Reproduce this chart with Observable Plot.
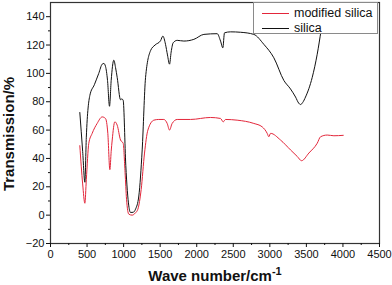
<!DOCTYPE html>
<html><head><meta charset="utf-8">
<script src="https://cdn.jsdelivr.net/npm/d3@7"></script>
<script src="https://cdn.jsdelivr.net/npm/@observablehq/plot@0.6"></script>
<style>
body{margin:0;background:#fff;}
#wrap{position:relative;width:392px;height:285px;font-family:"Liberation Sans",Arial,sans-serif;}
#legend{position:absolute;left:253px;top:2px;width:125px;height:32px;background:#fff;border:1px solid #8a8a8a;box-sizing:border-box;font-size:12.5px;color:#111;}
.row{position:absolute;left:8px;height:14px;display:flex;align-items:center;}
.row span.l{display:inline-block;width:27px;height:0;border-top:1px solid;margin-right:5px;}
</style></head>
<body><div id="wrap"></div>
<script>
const silicaX = [401,440,470,490,538,600,660,707,730,752,780,807,830,866,890,912,958,975,994,1030,1071,1094,1130,1163,1208,1254,1300,1368,1430,1505,1537,1573,1600,1628,1650,1678,1733,1824,1961,2098,2280,2326,2357,2380,2462,2600,2781,2918,3055,3192,3283,3352,3395,3420,3450,3488,3580,3648,3700];
const silicaY = [72.4,45,23.2,55,84.4,92,100,106.5,107,105,95,76.8,95,109.3,104,97.2,81.4,82,81,35,6.5,1.9,2,4.2,13.5,46,97,116,120,123,126.3,120.5,113,106.5,115,121.6,123.3,122.8,124,127.5,128,122.8,118,128.6,129.3,129,127.5,120.5,111,95,89,83.3,79,78,79.5,83.3,97.2,113.5,130];
const modX = [401,440,470,490,524,570,638,707,752,784,812,830,844,880,912,958,994,1020,1040,1071,1117,1160,1195,1240,1286,1332,1414,1480,1550,1596,1628,1664,1733,1915,2189,2326,2362,2394,2553,2781,2895,2964,2986,3010,3146,3283,3375,3434,3534,3648,3694,3785,3876,4004];
const modY = [49,22,8.4,25,50.7,57.7,64.7,69.3,68.2,57.7,32.1,45,53,65.8,63.5,53,50.7,30,11.2,0.7,0,1.5,4.2,18,43.8,60,67,67.5,67.5,64.7,60,64.7,67.5,67.5,68.9,68.2,65.8,67.5,67,64.7,62.3,57.7,55.3,57.7,53,46,41.4,38.4,43.8,50.7,55.3,56.5,56,56.3];
const xTicks = d3.range(0,4501,500);
const xMinor = d3.range(250,4500,500);
const yTicks = d3.range(-20,141,20);
const yMinor = d3.range(-10,150,20);
const seriesNames = ["modified silica","silica"];
const seriesColors = ["#e3263a","#111111"];

const silica = silicaX.map((x,i)=>({x,y:silicaY[i]}));
const mod = modX.map((x,i)=>({x,y:modY[i]}));

const plot = Plot.plot({
  width:392, height:285,
  marginLeft:50, marginRight:13, marginTop:2, marginBottom:42,
  x:{domain:[0,4500]},
  y:{domain:[-20,150]},
  style:{fontFamily:"Liberation Sans, Arial, sans-serif", fontSize:"11px", color:"#111"},
  marks:[
    Plot.line(mod,{x:"x",y:"y",stroke:seriesColors[0],strokeWidth:1,curve:"monotone-x"}),
    Plot.line(silica,{x:"x",y:"y",stroke:seriesColors[1],strokeWidth:1,curve:"monotone-x"}),
    Plot.frame({stroke:"#333",strokeWidth:1.2}),
    Plot.axisX(xTicks,{tickSize:4,tickPadding:3,label:null,fontSize:11,tickFormat:"d"}),
    Plot.axisX(xMinor,{tickSize:2,text:null,label:null}),
    Plot.axisY(yTicks,{tickSize:4,tickPadding:2,label:null,fontSize:11,tickFormat:"d"}),
    Plot.axisY(yMinor,{tickSize:2,text:null,label:null})
  ]
});
const wrap = document.getElementById("wrap");
wrap.appendChild(plot);
const svg = d3.select(plot);
svg.append("text").attr("transform","translate(14,134) rotate(-90)").attr("text-anchor","middle")
  .style("font-weight","bold").style("font-size","15px").attr("fill","#111").text("Transmission/%");
const xt = svg.append("text").attr("x",215).attr("y",281).attr("text-anchor","middle")
  .style("font-weight","bold").style("font-size","15px").attr("fill","#111");
xt.append("tspan").text("Wave number/cm");
xt.append("tspan").attr("dy","-6").style("font-size","11px").text("-1");

const lg = document.createElement("div"); lg.id="legend";
seriesNames.forEach((n,i)=>{
  const r=document.createElement("div"); r.className="row"; r.style.top=(i===0?3:18)+"px";
  r.innerHTML=`<span class="l" style="border-color:${seriesColors[i]}"></span>${n}`;
  lg.appendChild(r);
});
wrap.appendChild(lg);
</script></body></html>
